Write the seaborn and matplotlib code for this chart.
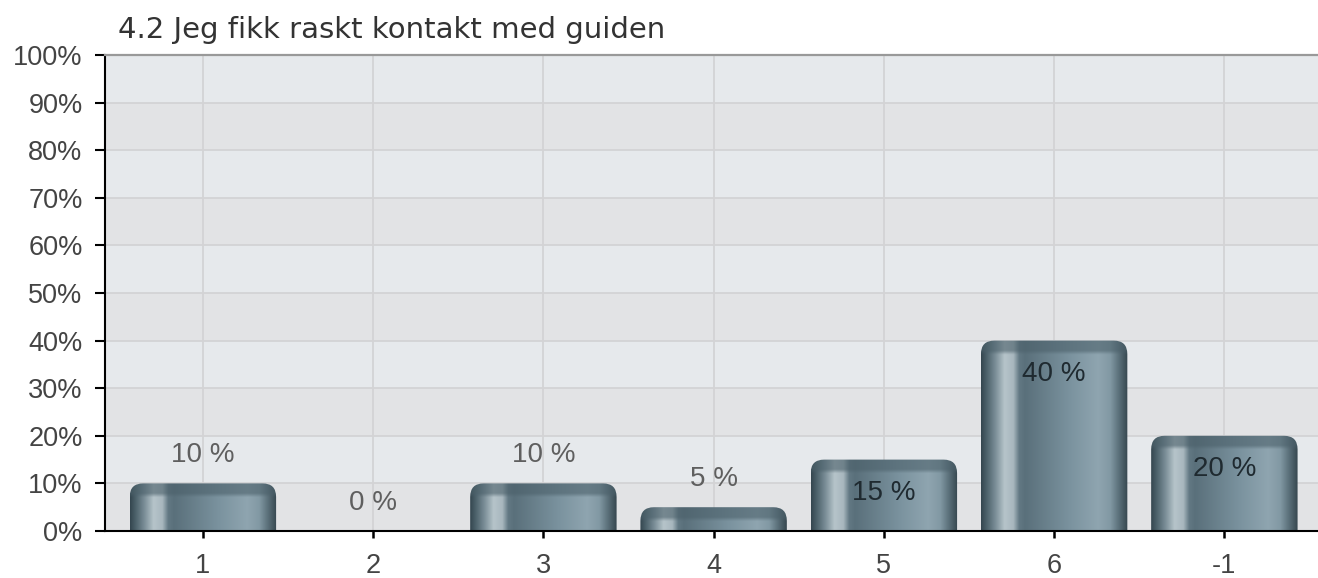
import numpy as np
import matplotlib
matplotlib.use("Agg")
import matplotlib.pyplot as plt
import seaborn as sns
import pandas as pd
from matplotlib.patches import FancyBboxPatch
from matplotlib.colors import to_rgb

# ---- data ----
categories = ["1", "2", "3", "4", "5", "6", "-1"]
percent = [10, 0, 10, 5, 15, 40, 20]
y_ticks = list(range(0, 101, 10))
y_tick_labels = [f"{t}%" for t in y_ticks]
title = "4.2 Jeg fikk raskt kontakt med guiden"

sns.set_theme(style="white")
plt.rcParams['font.family'] = ['Liberation Sans', 'DejaVu Sans']

FS = 19.5

W, H = 1318, 578
fig = plt.figure(figsize=(W / 100, H / 100), dpi=100)
ax = fig.add_axes([105 / W, (H - 531) / H, (W - 105) / W, (531 - 55) / H])

df = pd.DataFrame({"cat": categories, "pct": percent})
sns.barplot(data=df, x="cat", y="pct", order=categories, width=0.86,
            ax=ax, color="#607880")
bars = list(ax.containers[0])

XL = (-0.575, 6.55)
YL = (0, 100)
ax.set_xlim(*XL)
ax.set_ylim(*YL)

# pixel scales
ax_w_px = W - 105
ax_h_px = 531 - 55
xpx = ax_w_px / (XL[1] - XL[0])
ypx = ax_h_px / (YL[1] - YL[0])

# background bands
light, dark = "#e6e9ec", "#e2e3e5"
for i in range(10):
    ax.axhspan(i * 10, (i + 1) * 10, color=light if i % 2 == 1 else dark,
               zorder=0, lw=0)

ax.set_axisbelow(True)
ax.grid(True, color="#d3d3d5", lw=1.3)

# horizontal gradient for cylinder bars
stops = [
    (0.00, "#34464f"), (0.04, "#4e636d"), (0.10, "#7d9099"),
    (0.16, "#b6c4ca"), (0.22, "#a8b7be"), (0.26, "#627883"),
    (0.30, "#5a707b"), (0.60, "#7a929e"), (0.80, "#8fa5b0"),
    (0.88, "#8299a4"), (0.94, "#5b707a"), (1.00, "#36474f"),
]
NX = 300
xs = np.linspace(0, 1, NX)
sp = np.array([s[0] for s in stops])
cols = np.array([to_rgb(s[1]) for s in stops])
grad = np.stack([np.interp(xs, sp, cols[:, k]) for k in range(3)], axis=1)
cap_col = np.array(to_rgb("#4b606a"))

r_px = 13.5
r_x = r_px / xpx
asp = (r_px / ypx) / r_x

for p, v in zip(bars, percent):
    p.set_visible(False)
    x0, w, h = p.get_x(), p.get_width(), p.get_height()
    cx = x0 + w / 2
    if h > 0:
        patch = FancyBboxPatch((x0, -10), w, h + 10,
                               boxstyle=f"round,pad=0,rounding_size={r_x}",
                               mutation_aspect=asp, facecolor="none",
                               edgecolor="none", transform=ax.transData)
        ax.add_patch(patch)
        NY = 200
        dist_px = np.linspace(0, h * ypx, NY)  # distance from top
        t = np.clip((14 - dist_px) / 4.0, 0, 1)[:, None, None]
        capped = grad[None, :, :] * 0.4 + cap_col * 0.6
        img = (1 - t) * grad[None, :, :] + t * capped
        im = ax.imshow(img, extent=[x0, x0 + w, 0, h], origin="upper",
                       aspect="auto", zorder=2, interpolation="bilinear")
        im.set_clip_path(patch)
    if v <= 10:
        ax.text(cx, v + 28 / ypx, f"{v} %", ha="center", va="center",
                fontsize=20, color="#5f5f5f", zorder=5)
    else:
        ax.text(cx, v - 33 / ypx, f"{v} %", ha="center", va="center",
                fontsize=20, color="#1f2a30", zorder=5)

ax.set_xlim(*XL)
ax.set_ylim(*YL)
ax.set_aspect("auto")

ax.set_yticks(y_ticks)
ax.set_yticklabels(y_tick_labels)
ax.set_xlabel("")
ax.set_ylabel("")

ax.tick_params(axis="y", direction="out", length=7.2, width=1.5,
               color="black", labelsize=FS, labelcolor="#444444", pad=9,
               left=True)
ax.tick_params(axis="x", direction="out", length=5, width=1.8,
               color="black", labelsize=FS, labelcolor="#444444", pad=11,
               bottom=True)

for s in ["left", "bottom"]:
    ax.spines[s].set_color("black")
    ax.spines[s].set_linewidth(1.5)
    ax.spines[s].set_visible(True)
ax.spines["top"].set_color("#999999")
ax.spines["top"].set_linewidth(1.6)
ax.spines["top"].set_visible(True)
ax.spines["right"].set_visible(False)

fig.text(118 / W, 1 - 30 / H, title, fontsize=21, color="#333333",
         ha="left", va="center", family="DejaVu Sans")

fig.savefig("out.png", dpi=100, facecolor="white")
